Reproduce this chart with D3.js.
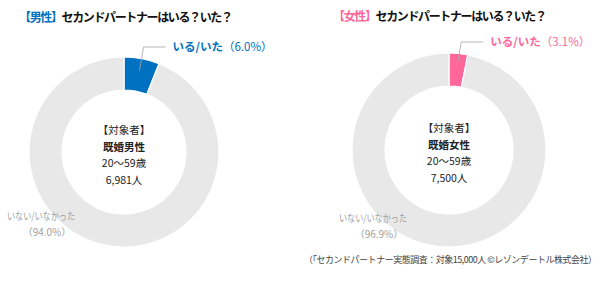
<!DOCTYPE html>
<html>
<head>
<meta charset="utf-8">
<script src="https://cdn.jsdelivr.net/npm/d3@7"></script>
<style>
  body { margin: 0; background: #fff; }
  svg { display: block; font-family: "Noto Sans CJK JP", "Noto Sans", sans-serif; }
</style>
</head>
<body>
<svg id="chart" width="600" height="281"></svg>
<script>
// data
var groups = ["男性", "女性"];
var targetLabels = ["既婚男性", "既婚女性"];
var ageRange = "20〜59歳";
var sampleSizes = ["6,981人", "7,500人"];
var categories = ["いる/いた", "いない/いなかった"];
var yesValues = [6.0, 3.1];
var noValues = [94.0, 96.9];
var accentColors = ["#0070C0", "#FF6699"];

var svg = d3.select("#chart");

// one block per panel
var panels = [
  { cx: 124, cy: 152, outer: 95, inner: 62, titleX: 19, titleY: 22, lineTop: 47, noX: 41, noY: 220 },
  { cx: 449, cy: 150, outer: 97, inner: 64, titleX: 333, titleY: 21, lineTop: 42, noX: 373, noY: 222 }
];

var pie = d3.pie().sort(null).value(function(d) { return d; });

panels.forEach(function(p, i) {
  var g = svg.append("g").attr("transform", "translate(" + p.cx + "," + p.cy + ")");
  var arc = d3.arc().innerRadius(p.inner).outerRadius(p.outer);
  var arcs = pie([yesValues[i], noValues[i]]);

  g.selectAll("path")
    .data(arcs)
    .enter().append("path")
    .attr("d", arc)
    .attr("fill", function(d, j) { return j == 0 ? accentColors[i] : "#E8E8E8"; })
    .attr("stroke", "#fff")
    .attr("stroke-width", 1.2);

  // title
  var title = svg.append("text")
    .attr("x", p.titleX)
    .attr("y", p.titleY)
    .attr("font-size", 12)
    .attr("font-weight", "bold")
    .attr("fill", "#111")
    .attr("textLength", 214)
    .attr("lengthAdjust", "spacing");
  title.append("tspan").attr("fill", accentColors[i]).text("【" + groups[i] + "】");
  title.append("tspan").text("セカンドパートナーはいる？いた？");

  // leader line for the small slice
  var mid = (arcs[0].startAngle + arcs[0].endAngle) / 2;
  var r0 = p.outer - 12;
  var x0 = Math.sin(mid) * r0, y0 = -Math.cos(mid) * r0;
  var x1 = x0 + 4, y1 = p.lineTop - p.cy;
  g.append("polyline")
    .attr("points", [[x0, y0], [x1, y1], [x1 + 22, y1]].map(function(d) { return d.join(","); }).join(" "))
    .attr("fill", "none")
    .attr("stroke", "#A6A6A6")
    .attr("stroke-width", 0.8);

  var yes = g.append("text")
    .attr("x", x1 + 29)
    .attr("y", y1 + 4)
    .attr("font-size", 11.5)
    .attr("fill", accentColors[i]);
  yes.append("tspan").attr("font-weight", "bold").text(categories[0]);
  yes.append("tspan").text("（" + yesValues[i].toFixed(1) + "%）");

  // big slice label
  var no = svg.append("text")
    .attr("text-anchor", "middle")
    .attr("font-size", 10)
    .attr("fill", "#A0A0A0");
  no.append("tspan").attr("x", p.noX).attr("y", p.noY)
    .attr("textLength", 68).attr("lengthAdjust", "spacingAndGlyphs")
    .text(categories[1]);
  no.append("tspan").attr("x", p.noX + 6).attr("y", p.noY + 16).text("（" + noValues[i].toFixed(1) + "%）");

  // center text
  var lines = ["【対象者】", targetLabels[i], ageRange, sampleSizes[i]];
  g.selectAll("text.center")
    .data(lines)
    .enter().append("text")
    .attr("class", "center")
    .attr("text-anchor", "middle")
    .attr("x", 0)
    .attr("y", function(d, j) { return -18 + j * 16.5; })
    .attr("font-size", 10.5)
    .attr("font-weight", function(d, j) { return j == 1 ? "bold" : "normal"; })
    .attr("fill", "#222")
    .text(function(d) { return d; });
});

svg.append("text")
  .attr("x", 304)
  .attr("y", 263)
  .attr("font-size", 9)
  .attr("fill", "#444")
  .attr("textLength", 293)
  .attr("lengthAdjust", "spacing")
  .text("（「セカンドパートナー実態調査：対象15,000人 ©レゾンデートル株式会社）");
</script>
</body>
</html>
